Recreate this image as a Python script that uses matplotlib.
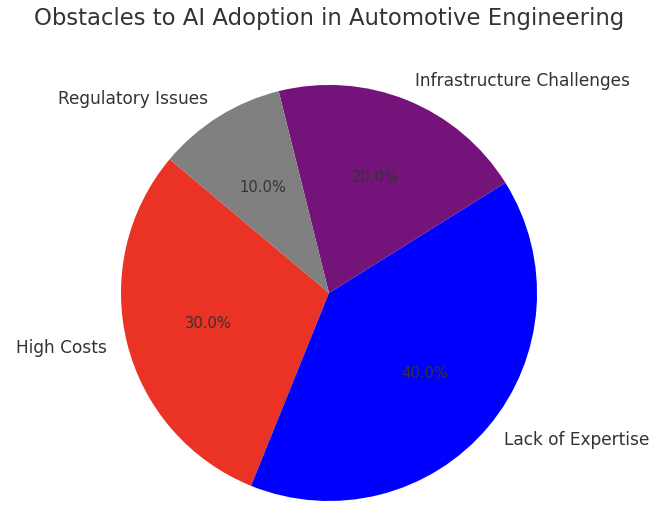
import matplotlib
matplotlib.use("Agg")
import matplotlib.pyplot as plt

categories = ["High Costs", "Lack of Expertise", "Infrastructure Challenges", "Regulatory Issues"]
values = [30, 40, 20, 10]
colors = ["#ea3324", "#0000ff", "#74137a", "#808080"]
title = "Obstacles to AI Adoption in Automotive Engineering"

plt.rcParams['text.color'] = '#333333'
fig = plt.figure(figsize=(6.68, 5.08), dpi=100)
ax = fig.add_axes([0.1811, 0.0138, 0.6228, 0.819])
wedges, texts, autotexts = ax.pie(values, labels=categories, colors=colors,
                                  autopct='%1.1f%%', startangle=140,
                                  textprops={'fontsize': 12.25, 'color': '#333333'})
for t in autotexts:
    t.set_fontsize(10.6)
    t.set_color('#333333')
ax.set_xlim(-1, 1)
ax.set_ylim(-1, 1)
ax.set_aspect('equal')
ax.axis('off')
fig.text(0.4925, 0.963, title, ha='center', va='center', fontsize=16.4, color='#333333')
fig.savefig("out.png", dpi=100)
